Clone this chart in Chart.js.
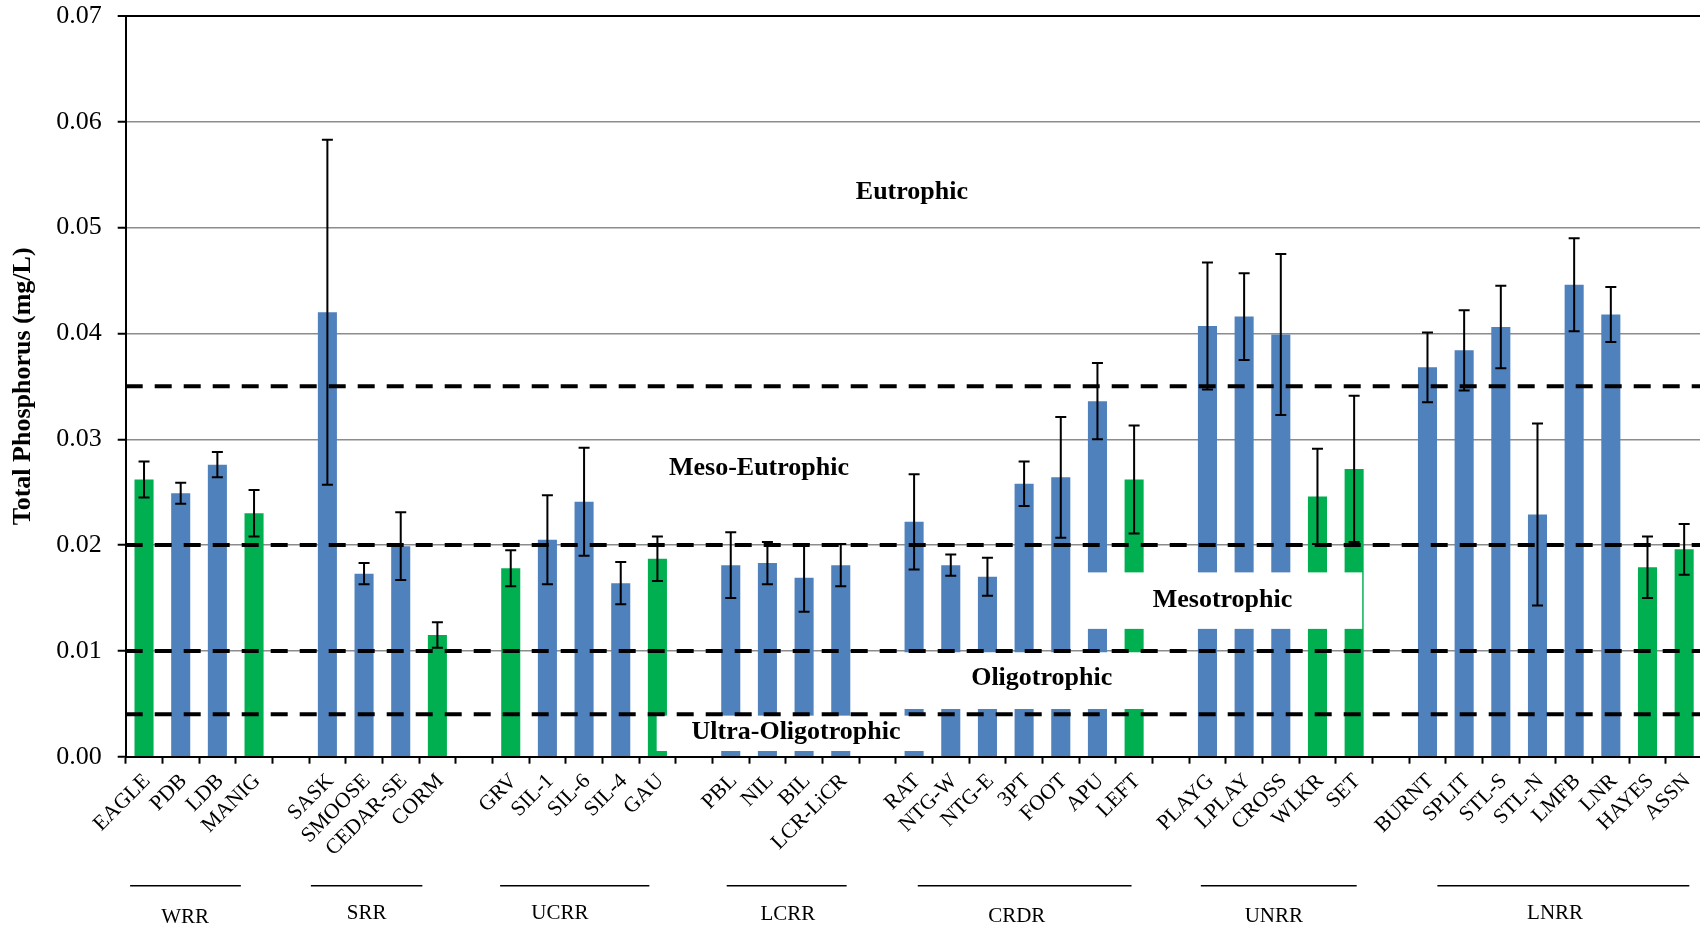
<!DOCTYPE html>
<html>
<head>
<meta charset="utf-8">
<script src="https://cdn.jsdelivr.net/npm/chart.js@4.4.1/dist/chart.umd.min.js"></script>
<style>
  html, body { margin: 0; padding: 0; overflow: hidden; background: #fff; }
  .wrap { position: relative; width: 1704px; height: 927px; }
</style>
</head>
<body>
<div class="wrap"><canvas id="tpChart"></canvas></div>
<script>
// sites along the x axis, '' marks the gap between rivers
const sites = [
  "EAGLE", "PDB", "LDB", "MANIG", "",
  "SASK", "SMOOSE", "CEDAR-SE", "CORM", "",
  "GRV", "SIL-1", "SIL-6", "SIL-4", "GAU", "",
  "PBL", "NIL", "BIL", "LCR-LiCR", "",
  "RAT", "NTG-W", "NTG-E", "3PT", "FOOT", "APU", "LEFT", "",
  "PLAYG", "LPLAY", "CROSS", "WLKR", "SET", "",
  "BURNT", "SPLIT", "STL-S", "STL-N", "LMFB", "LNR", "HAYES", "ASSN"
];

// mean total phosphorus (mg/L)
const meanTP = [
  0.0262, 0.0249, 0.0276, 0.0230, null,
  0.0420, 0.0173, 0.0199, 0.0115, null,
  0.0178, 0.0205, 0.0241, 0.0164, 0.0187, null,
  0.0181, 0.0183, 0.0169, 0.0181, null,
  0.0222, 0.0181, 0.0170, 0.0258, 0.0264, 0.0336, 0.0262, null,
  0.0407, 0.0416, 0.0399, 0.0246, 0.0272, null,
  0.0368, 0.0384, 0.0406, 0.0229, 0.0446, 0.0418, 0.0179, 0.0196
];

// standard deviation for the error bars
const sdTP = [
  0.0017, 0.0010, 0.0012, 0.0022, null,
  0.0163, 0.0010, 0.0032, 0.0012, null,
  0.0017, 0.0042, 0.0051, 0.0020, 0.0021, null,
  0.0031, 0.0020, 0.0032, 0.0020, null,
  0.0045, 0.0010, 0.0018, 0.0021, 0.0057, 0.0036, 0.0051, null,
  0.0060, 0.0041, 0.0076, 0.0045, 0.0069, null,
  0.0033, 0.0038, 0.0039, 0.0086, 0.0044, 0.0026, 0.0029, 0.0024
];

// reference sites drawn in green
const referenceSites = ["EAGLE", "MANIG", "CORM", "GRV", "GAU", "LEFT", "WLKR", "SET", "HAYES", "ASSN"];

const rivers = ["WRR", "SRR", "UCRR", "LCRR", "CRDR", "UNRR", "LNRR"];

// trophic boundaries (mg/L)
const trophicLimits = [0.035, 0.02, 0.01, 0.004];

const BLUE = "#4F81BD";
const GREEN = "#00B050";
const SERIF = "'Liberation Serif', 'Times New Roman', serif";

Chart.defaults.font.family = SERIF;
Chart.defaults.color = "#000";

// underline under each river name, in category units, plus label x and y
const riverMarks = [
  { from: -0.38, to: 2.64, at: 1.12, y: 917 },
  { from: 4.55, to: 7.59, at: 6.07, y: 913 },
  { from: 9.71, to: 13.78, at: 11.34, y: 913 },
  { from: 15.89, to: 19.16, at: 17.56, y: 914 },
  { from: 21.10, to: 26.93, at: 23.80, y: 916 },
  { from: 28.82, to: 33.07, at: 30.81, y: 916 },
  { from: 35.27, to: 42.14, at: 38.48, y: 913 }
];

// trophic state names; box = white backing in category / value units
const zones = [
  { text: "Eutrophic", x: 20.94, y: 0.0533 },
  { text: "Meso-Eutrophic", x: 16.77, y: 0.0273 },
  { text: "Mesotrophic", x: 29.41, y: 0.0148, box: [25.31, 33.22, 0.01742, 0.01208] },
  { text: "Oligotrophic", x: 24.48, y: 0.0074, box: [20.34, 28.61, 0.00987, 0.00451] },
  { text: "Ultra-Oligotrophic", x: 17.78, y: 0.0023, box: [13.98, 21.52, 0.00388, 0.00054] }
];

const trophicPlugin = {
  id: "trophic",
  afterDatasetsDraw(chart) {
    const { ctx, chartArea, scales: { x, y } } = chart;
    ctx.save();

    // white boxes behind the lower zone names
    ctx.fillStyle = "#fff";
    zones.forEach(z => {
      if (!z.box) return;
      const x0 = x.getPixelForValue(z.box[0]);
      const x1 = x.getPixelForValue(z.box[1]);
      const y0 = y.getPixelForValue(z.box[2]);
      const y1 = y.getPixelForValue(z.box[3]);
      ctx.fillRect(x0, y0, x1 - x0, y1 - y0);
    });

    // dashed boundary lines
    ctx.strokeStyle = "#000";
    ctx.lineWidth = 4;
    ctx.setLineDash([17, 12]);
    trophicLimits.forEach(v => {
      const py = y.getPixelForValue(v);
      ctx.beginPath();
      ctx.moveTo(chartArea.left, py);
      ctx.lineTo(chartArea.right, py);
      ctx.stroke();
    });
    ctx.setLineDash([]);

    // error bars
    const meta = chart.getDatasetMeta(0);
    ctx.lineWidth = 2;
    meta.data.forEach((bar, i) => {
      if (meanTP[i] == null || sdTP[i] == null) return;
      const hi = y.getPixelForValue(meanTP[i] + sdTP[i]);
      const lo = y.getPixelForValue(meanTP[i] - sdTP[i]);
      ctx.beginPath();
      ctx.moveTo(bar.x, hi);
      ctx.lineTo(bar.x, lo);
      ctx.moveTo(bar.x - 5.5, hi);
      ctx.lineTo(bar.x + 5.5, hi);
      ctx.moveTo(bar.x - 5.5, lo);
      ctx.lineTo(bar.x + 5.5, lo);
      ctx.stroke();
    });

    // zone names
    ctx.fillStyle = "#000";
    ctx.font = "bold 26px " + SERIF;
    ctx.textAlign = "center";
    ctx.textBaseline = "middle";
    zones.forEach(z => {
      ctx.fillText(z.text, x.getPixelForValue(z.x), y.getPixelForValue(z.y));
    });
    ctx.restore();
  },
  afterDraw(chart) {
    const { ctx, scales: { x } } = chart;
    ctx.save();
    ctx.strokeStyle = "#000";
    ctx.lineWidth = 1.5;
    ctx.fillStyle = "#000";
    ctx.font = "21px " + SERIF;
    ctx.textAlign = "center";
    ctx.textBaseline = "middle";
    riverMarks.forEach((m, i) => {
      ctx.beginPath();
      ctx.moveTo(x.getPixelForValue(m.from), 885.7);
      ctx.lineTo(x.getPixelForValue(m.to), 885.7);
      ctx.stroke();
      ctx.fillText(rivers[i], x.getPixelForValue(m.at), m.y);
    });
    ctx.restore();
  }
};

new Chart(document.getElementById("tpChart"), {
  type: "bar",
  data: {
    labels: sites,
    datasets: [{
      data: meanTP,
      backgroundColor: sites.map(s => referenceSites.includes(s) ? GREEN : BLUE),
      barPercentage: 0.52,
      categoryPercentage: 1
    }]
  },
  options: {
    responsive: true,
    maintainAspectRatio: false,
    animation: false,
    layout: { padding: { top: 0, right: 1.5, left: 0, bottom: 0 } },
    plugins: { legend: { display: false }, tooltip: { enabled: false } },
    scales: {
      x: {
        afterFit(scale) {
          scale.height = 170.3;
          scale.paddingLeft = 0;
          scale.paddingRight = 0;
        },
        grid: {
          offset: true,
          drawOnChartArea: false,
          drawTicks: true,
          tickLength: 7,
          tickColor: "#000",
          tickWidth: 2
        },
        border: { color: "#000", width: 2, z: 1 },
        ticks: {
          autoSkip: false,
          maxRotation: 45,
          minRotation: 45,
          padding: 5,
          labelOffset: 3,
          color: "#000",
          font: { family: SERIF, size: 21.5 }
        }
      },
      y: {
        min: 0,
        max: 0.07,
        afterFit(scale) {
          scale.width = 125.7;
          scale.paddingTop = 16;
          scale.paddingBottom = 0;
        },
        grid: {
          color: ctx => ctx.tick && ctx.tick.value >= 0.07 ? "#000" : "#8c8c8c",
          lineWidth: ctx => ctx.tick && ctx.tick.value >= 0.07 ? 2 : 1.5,
          tickColor: "#000",
          tickLength: 8,
          tickWidth: 2
        },
        border: { color: "#000", width: 2, z: 1 },
        ticks: {
          stepSize: 0.01,
          padding: 16,
          color: "#000",
          font: { family: SERIF, size: 26 },
          callback: v => v.toFixed(2)
        },
        title: {
          display: true,
          text: "Total Phosphorus (mg/L)",
          color: "#000",
          padding: { top: 8, bottom: 0 },
          font: { family: SERIF, size: 26, weight: "bold" }
        }
      }
    }
  },
  plugins: [trophicPlugin]
});
</script>
</body>
</html>
